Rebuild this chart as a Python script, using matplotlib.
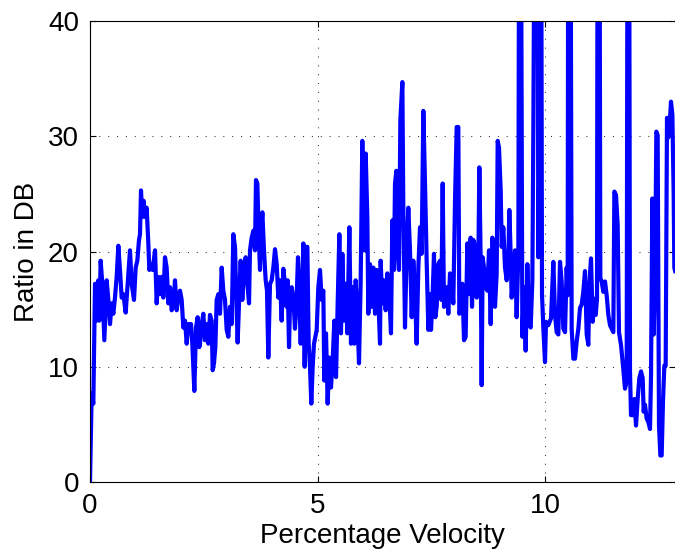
import matplotlib
matplotlib.use("Agg")
import matplotlib.pyplot as plt

plt.rcParams['font.family'] = ['Liberation Sans', 'DejaVu Sans']

# Values (x in % velocity, y in dB); 60 = clipped spikes
x_a = [0.0, 0.037, 0.073, 0.11, 0.147, 0.183, 0.205, 0.234, 0.271, 0.315,
       0.366, 0.403, 0.44, 0.476, 0.513, 0.549, 0.586, 0.623, 0.659, 0.696,
       0.733, 0.784, 0.828, 0.879, 0.916, 0.967, 1.004, 1.04, 1.077, 1.099,
       1.121, 1.15, 1.179, 1.209, 1.245, 1.282, 1.304, 1.34, 1.377, 1.429,
       1.465, 1.502, 1.538, 1.575, 1.612, 1.648, 1.685, 1.722, 1.758, 1.795,
       1.832, 1.868, 1.905, 1.941, 1.978, 2.015, 2.051, 2.088, 2.125, 2.161,
       2.22, 2.249, 2.293, 2.33, 2.366, 2.403]
y_a = [0, 7.7, 6.8, 17.2, 14, 17.5, 14, 19.2, 17.2, 12.3,
       17.5, 15.8, 13.7, 15.5, 14.6, 16, 17.8, 20.5, 18.4, 16,
       16.3, 14.7, 17.2, 20.1, 17.2, 15.8, 18.6, 19.2, 21, 21.5,
       25.3, 23, 24.4, 23, 23.8, 20.7, 18.4, 18.9, 18.4, 20.1,
       15.5, 17.8, 16.3, 17.8, 16, 19.5, 18.6, 15.5, 16.9, 14.9,
       15.5, 17.5, 14.9, 16, 16.6, 15.8, 13.4, 14, 12, 13.7,
       13.7, 12, 7.9, 13.4, 14.3, 11.7]

x_b = [2.418, 2.454, 2.491, 2.527, 2.564, 2.601, 2.637, 2.674, 2.696, 2.725,
       2.755, 2.784, 2.821, 2.857, 2.894, 2.93, 2.967, 3.004, 3.04, 3.077,
       3.114, 3.15, 3.187, 3.223, 3.245, 3.282, 3.311, 3.348, 3.385, 3.421,
       3.458, 3.495, 3.516, 3.553, 3.59, 3.626, 3.648, 3.678, 3.707, 3.736,
       3.758, 3.788, 3.824, 3.861, 3.89, 3.919, 3.956, 3.993, 4.029, 4.066,
       4.103, 4.139, 4.176, 4.212, 4.249, 4.286, 4.322, 4.344, 4.374, 4.396,
       4.432, 4.469, 4.505, 4.542, 4.571, 4.601, 4.63, 4.659, 4.689, 4.718,
       4.747, 4.777, 4.806, 4.835, 4.864, 4.894, 4.923]
y_b = [12, 13.7, 14.6, 12.3, 13.7, 12, 14.5, 14, 9.7, 10.3,
       11.7, 15.8, 16.3, 14.6, 18.6, 16.6, 15.8, 13.2, 12.6, 15.2,
       13.7, 21.5, 20.4, 14.9, 12.1, 16.3, 19.2, 15.8, 18.4, 19.5,
       17.2, 15.5, 20.1, 21.2, 21.8, 20.1, 26.2, 25.9, 21.5, 18.4,
       21.5, 23.4, 20.1, 17.5, 16.6, 10.8, 17.2, 17.5, 18.6, 20.2,
       18.9, 16, 17.5, 14, 18.5, 17.2, 15.2, 17.5, 11.7, 15.5,
       16.9, 16, 13.3, 16, 19.5, 16, 12, 16.3, 20.7, 10,
       20.4, 20.4, 12, 10, 6.8, 10, 12]

x_c = [4.982, 5.018, 5.055, 5.092, 5.128, 5.15, 5.187, 5.223, 5.26, 5.297,
       5.333, 5.37, 5.407, 5.443, 5.48, 5.516, 5.546, 5.582, 5.619, 5.656,
       5.7, 5.736, 5.773, 5.81, 5.839, 5.875, 5.912, 5.949, 5.985, 6.022,
       6.059, 6.095, 6.117, 6.154, 6.19, 6.227, 6.264, 6.3, 6.337, 6.374,
       6.388, 6.425, 6.462, 6.498, 6.535, 6.571, 6.615, 6.645, 6.681, 6.703,
       6.733, 6.762, 6.791, 6.821, 6.865, 6.886, 6.923, 6.96, 6.996, 7.033,
       7.07, 7.106, 7.143, 7.179, 7.216, 7.253, 7.289, 7.326, 7.363, 7.399,
       7.436]
y_c = [13.2, 16.9, 18.4, 15.8, 16.6, 8.8, 12.9, 6.8, 10.8, 8.2,
       10.5, 14, 9.1, 15.5, 21.5, 12.9, 19.8, 14, 17.2, 12.9,
       22.1, 12, 16.9, 12, 17.5, 14.6, 10.3, 17.5, 29.6, 20.1,
       28.5, 23, 14.6, 18.9, 15.2, 18.6, 14.6, 18.4, 15.8, 12,
       19.2, 15.5, 17.5, 14.9, 18.1, 16.9, 12.9, 22.7, 18.4, 25.9,
       27, 20.1, 18.4, 31.4, 34.7, 23.8, 13.4, 20.1, 23.8, 20.1,
       14.3, 19.2, 16.3, 12, 18.6, 22.1, 19.8, 32.2, 25.9, 19.2,
       13.2]

x_d = [7.473, 7.495, 7.531, 7.56, 7.59, 7.619, 7.656, 7.692, 7.722, 7.751,
       7.78, 7.81, 7.839, 7.875, 7.912, 7.949, 7.985, 8.022, 8.059, 8.095,
       8.117, 8.154, 8.183, 8.22, 8.256, 8.293, 8.33, 8.366, 8.396, 8.425,
       8.469, 8.498, 8.535, 8.557, 8.586, 8.608, 8.63, 8.659, 8.696, 8.733,
       8.769, 8.806, 8.842, 8.879, 8.901, 8.938, 8.96, 8.989, 9.026, 9.048,
       9.084, 9.121, 9.158, 9.194, 9.216, 9.245, 9.267, 9.304, 9.341, 9.377,
       9.414, 9.436, 9.465, 9.502, 9.538, 9.575, 9.612, 9.648, 9.685, 9.722,
       9.744, 9.78, 9.832, 9.853, 9.875, 9.912, 9.934, 9.963]
y_d = [16.3, 13.2, 16.3, 19.8, 14.3, 15.2, 18.9, 19.2, 15.8, 25.9,
       15.2, 16.3, 16.9, 14.6, 18.1, 17.5, 15.5, 24.4, 30.8, 30.8,
       14.6, 15.2, 17.2, 12.3, 12.6, 20.7, 16.3, 21.2, 15.2, 21,
       20.4, 16, 19.2, 27.3, 19.2, 8.4, 19.5, 18.6, 16.9, 16.6,
       20.1, 13.7, 21.2, 19.8, 15.2, 18.1, 29.6, 29, 25.3, 20.4,
       22.1, 18.6, 17.5, 19.2, 23.6, 19.8, 16, 18.1, 20.1, 14.3,
       19.8, 60, 60, 12.6, 16.9, 11.4, 18.9, 13.7, 13.4, 17.5,
       30.8, 60, 60, 19.5, 27.9, 60, 16.3, 13.4]

x_e = [10.0, 10.022, 10.073, 10.132, 10.183, 10.22, 10.256, 10.293, 10.33, 10.366,
       10.403, 10.44, 10.476, 10.498, 10.513, 10.557, 10.586, 10.623, 10.659, 10.696,
       10.733, 10.769, 10.806, 10.842, 10.879, 10.916, 10.952, 10.974, 11.011, 11.048,
       11.084, 11.114, 11.143, 11.158, 11.194, 11.216, 11.245, 11.282, 11.319, 11.355,
       11.392, 11.429, 11.465, 11.502, 11.524, 11.56, 11.597, 11.626, 11.67, 11.714,
       11.758, 11.795, 11.817, 11.846, 11.868, 11.89, 11.927, 11.963, 12.0, 12.037,
       12.073, 12.11, 12.147, 12.168, 12.198, 12.234, 12.271, 12.308, 12.33, 12.359,
       12.388, 12.418, 12.447, 12.476, 12.505, 12.535, 12.564, 12.593, 12.623, 12.652,
       12.681, 12.711, 12.74, 12.769, 12.799, 12.828, 12.842, 12.86]
y_e = [10.4, 13.9, 13.6, 14.2, 19.1, 14.5, 13, 12.8, 19.1, 17.4,
       13.3, 13, 18.6, 16.2, 60, 60, 13.3, 10.7, 10.7, 12.2,
       13.3, 15.1, 15.4, 16.5, 18.3, 12.8, 11.9, 17.1, 19.4, 13.9,
       15.9, 14.5, 15.9, 60, 60, 17.7, 17.4, 16.5, 17.4, 16.2,
       14.5, 13.6, 13.3, 13, 25.2, 24.9, 22.3, 13, 11.9, 10.1,
       8.1, 8.7, 60, 60, 9.6, 5.8, 5.8, 7.2, 4.9, 7.2,
       9, 9.6, 9, 6.1, 6.7, 5.5, 5.2, 4.6, 9.3, 24.6,
       12.8, 17.4, 30.4, 30.1, 4.9, 2.3, 2.3, 7, 10.1, 10.1,
       31.6, 29.9, 31, 33, 31.9, 24.9, 18.6, 18.3]

x_vals = x_a + x_b + x_c + x_d + x_e
y_vals = y_a + y_b + y_c + y_d + y_e

fig = plt.figure(figsize=(6.75, 5.53), dpi=100)
ax = fig.add_axes([90 / 675, 71 / 553, 585 / 675, 461 / 553])

ax.plot(x_vals, y_vals, color='#0000ff', linewidth=3.0, solid_joinstyle='round')

ax.set_xlim(0, 12.857)
ax.set_ylim(0, 40)
ax.set_xticks([0, 5, 10])
ax.set_yticks([0, 10, 20, 30, 40])
ax.grid(True, color='#333333', linestyle=(0, (1, 7.5)), linewidth=0.75)
ax.tick_params(direction='in', length=4.5, labelsize=20, top=True, right=True, pad=8)
ax.spines['right'].set_visible(False)

ax.set_xlabel('Percentage Velocity', fontsize=20, labelpad=3)
ax.set_ylabel('Ratio in DB', fontsize=20, labelpad=6)

fig.savefig('out.png', dpi=100)
